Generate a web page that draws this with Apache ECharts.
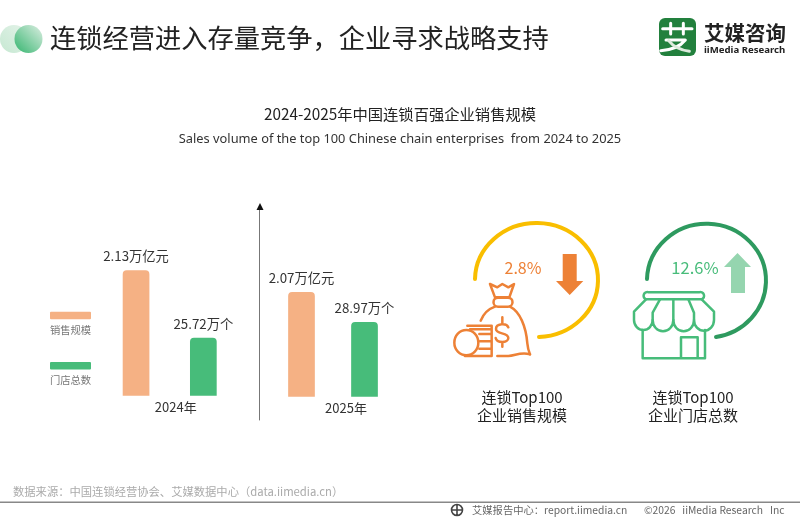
<!DOCTYPE html>
<html><head><meta charset="utf-8">
<style>html,body{margin:0;padding:0;background:#fff}#c{width:800px;height:520px}</style>
<script src="https://cdn.jsdelivr.net/npm/echarts@6/dist/echarts.min.js"></script>
</head><body><div id="c"></div>
<script>
const years = ['2024年', '2025年'];
const salesValues = [2.13, 2.07];
const storeValues = [25.72, 28.97];
const seriesNames = ['销售规模', '门店总数'];
const salesUnit = '万亿元';
const storeUnit = '万个';
const changes = ['2.8%', '12.6%'];
const kpiLabels = [['连锁Top100', '企业销售规模'], ['连锁Top100', '企业门店总数']];

const CJK = '"Noto Sans CJK SC","Noto Sans",sans-serif';
const ORANGE = '#F5B184', GREEN = '#47BC7A', ICON_OR = '#ED8136';

function barSeries(name, yIdx, xIdx, val, unit, color, gap) {
  return {
    type: 'bar', name, xAxisIndex: xIdx, yAxisIndex: yIdx, data: [val],
    barWidth: 26.7, barGap: gap,
    itemStyle: { color, borderRadius: [4, 4, 0, 0] },
    label: { show: true, position: 'top', distance: 7.5, fontFamily: CJK, fontSize: 13.3, color: '#333',
      formatter: p => p.value + unit }
  };
}
function cat(i, padLeft) {
  return { type: 'category', gridIndex: i, data: [years[i]],
    axisLine: { show: false }, axisTick: { show: false }, splitLine: { show: false },
    axisLabel: { fontFamily: CJK, fontSize: 13, color: '#333', margin: 5, padding: [0, 0, 0, padLeft] } };
}
function val(i, min, max) {
  return { type: 'value', gridIndex: i, min, max, show: false, splitLine: { show: false } };
}
function text(t, x, y, size, color, align, extra) {
  return { type: 'text', x, y, silent: true,
    style: Object.assign({ text: t, fill: color, font: `${size}px ${CJK}`, align: align || 'left', verticalAlign: 'middle' }, extra || {}) };
}
let shapeId = 0;
function pathType(d) {
  const name = 'sk' + (shapeId++);
  echarts.graphic.registerShape(name, echarts.graphic.extendPath(d, {}));
  return name;
}
function stroke(d, color, w) {
  return { type: pathType(d), silent: true, 
    style: { fill: 'none', stroke: color, lineWidth: w, lineCap: 'round', lineJoin: 'round' } };
}
function fillPath(d, color) {
  return { type: pathType(d), silent: true, style: { fill: color } };
}
const lg = (c0, c1, x, y, x2, y2) => ({ type: 'linear', x, y, x2, y2, colorStops: [{ offset: 0, color: c0 }, { offset: 1, color: c1 }] });

const graphics = [
  // header dots
  { type: 'circle', shape: { cx: 14, cy: 39, r: 14 }, style: { fill: lg('#E4F3E9', '#C6E8D2', 1, 0, 0, 1) } },
  { type: 'circle', shape: { cx: 28.5, cy: 39, r: 14 }, style: { fill: lg('#DCEEE2', '#35B56F', 1, 0, 0, 1) } },
  // logo
  { type: 'rect', shape: { x: 659, y: 18, width: 37, height: 38, r: 6 }, style: { fill: '#22803D' } },
  { type: 'group', x: 640, y: 0, scaleX: 1 / 3, scaleY: 1 / 3, children: [
    stroke('M68,86 L156,86 M92,70 L92,102 M130,70 L130,102', '#fff', 9),
    stroke('M78,120 L136,120 C120,140 95,150 62,152', '#fff', 9),
    stroke('M86,122 C100,140 118,150 148,154', '#DDEBDD', 9)
  ] },
  text('艾媒咨询', 704, 33, 20.5, '#222', 'left', { font: `bold 20.5px ${CJK}` }),
  text('iiMedia Research', 704, 50, 9.6, '#222', 'left', { font: `bold 9.6px "Noto Sans",sans-serif` }),
  // legend
  { type: 'rect', shape: { x: 50, y: 311.7, width: 41, height: 7.6, r: 1 }, style: { fill: ORANGE } },
  text(seriesNames[0], 70.5, 330, 10.3, '#777', 'center'),
  { type: 'rect', shape: { x: 50, y: 362, width: 41, height: 7.6, r: 1 }, style: { fill: GREEN } },
  text(seriesNames[1], 70.5, 380, 10.3, '#777', 'center'),
  // divider arrow
  stroke('M259.5,420 L259.5,207', '#777', 1),
  fillPath('M260,203 L263.5,210 L256.5,210 Z', '#111'),
  // left KPI
  stroke('M475,279 A61.5,57 0 1 1 539,337', '#F9BE00', 4),
  text(changes[0], 523, 268, 16, ICON_OR, 'center'),
  fillPath('M562.7,254 L576.7,254 L576.7,281 L583.3,281 L569.7,295 L556,281 L562.7,281 Z', ICON_OR),
  { type: 'group', x: 440, y: 210, scaleX: 1 / 3, scaleY: 1 / 3, children: [
    stroke('M150,222 L172,232 L187,222 L205,232 L222,222 L208,262 L165,262 Z', ICON_OR, 7.5),
    stroke('M174,263 L204,263 A13,13 0 0 1 204,290 L174,290 A13,13 0 0 1 174,263 Z', ICON_OR, 7.5),
    stroke('M122,332 C130,312 145,297 165,290 M210,290 C240,305 258,350 262,400 C264,420 268,428 270,433', ICON_OR, 7.5),
    stroke('M172,438 L205,438 C225,438 240,425 270,433', ICON_OR, 7.5),
    stroke('M205,352 C200,338 168,340 168,357 C168,375 205,365 205,384 C205,400 170,400 167,384 M187,322 L187,340 M187,396 L187,410', ICON_OR, 7.5),
    stroke('M115,398 A36,38 0 1 1 43,398 A36,38 0 1 1 115,398 Z', ICON_OR, 7.5),
    stroke('M82,347 L155,347 L155,438 L75,438 M90,358 L155,358 M118,372 L155,372 M120,394 L155,394 M118,416 L155,416', ICON_OR, 7.5)
  ] },
  // right KPI
  stroke('M647,279 A59.5,57 0 1 1 716,337', '#2E9A5F', 4),
  text(changes[1], 695, 268, 16.5, GREEN, 'center'),
  fillPath('M737.5,253 L751,267 L745,267 L745,293 L731,293 L731,267 L724,267 Z', '#95D5AF'),
  { type: 'group', x: 620, y: 210, scaleX: 1 / 3, scaleY: 1 / 3, children: [
    stroke('M86,247 L237,247 A10,10 0 0 1 245,268 L78,268 A10,10 0 0 1 86,247 Z', GREEN, 7.5),
    stroke('M78,268 L42,305 L42,330 A28,30 0 0 0 98,330 A31,34 0 0 0 160,330 A31,34 0 0 0 222,330 A30,32 0 0 0 282,330 L282,305 L245,268', GREEN, 7.5),
    stroke('M120,268 L98,308 L98,330 M160,268 L160,330 M205,268 L222,308 L222,330', GREEN, 7.5),
    stroke('M68,360 L68,445 L255,445 L255,360 M183,445 L183,382 L233,382 L233,445', GREEN, 7.5)
  ] },
  text(kpiLabels[0][0], 522, 397, 15, '#222', 'center'),
  text(kpiLabels[0][1], 522, 415, 15, '#222', 'center'),
  text(kpiLabels[1][0], 693, 397, 15, '#222', 'center'),
  text(kpiLabels[1][1], 693, 415, 15, '#222', 'center'),
  // footer
  text('数据来源：中国连锁经营协会、艾媒数据中心（data.iimedia.cn）', 13, 492, 11.3, '#AAA'),
  { type: 'rect', shape: { x: 0, y: 501.5, width: 800, height: 1.5 }, style: { fill: '#888' } },
  stroke('M462.5,510 A5.5,5.5 0 1 1 451.5,510 A5.5,5.5 0 1 1 462.5,510 Z M451.5,510 L462.5,510 M457,504.5 L457,515.5', '#444', 1.6),
  text('艾媒报告中心：report.iimedia.cn', 472, 510, 10.3, '#666'),
  text('©2026   iiMedia Research   Inc', 644, 510, 10.3, '#666')
];

const option = {
  animation: false,
  backgroundColor: '#fff',
  title: [
    { text: '连锁经营进入存量竞争，企业寻求战略支持', left: 50, top: 21,
      textStyle: { fontFamily: CJK, fontSize: 26.25, fontWeight: 'normal', color: '#222', lineHeight: 34 }, padding: 0 },
    { text: '2024-2025年中国连锁百强企业销售规模', left: 400, top: 105, textAlign: 'center', padding: 0,
      textStyle: { fontFamily: CJK, fontSize: 15.3, fontWeight: 'normal', color: '#222', lineHeight: 18 } },
    { text: 'Sales volume of the top 100 Chinese chain enterprises  from 2024 to 2025', left: 400, top: 130, textAlign: 'center', padding: 0,
      textStyle: { fontFamily: '"Noto Sans",sans-serif', fontSize: 12.83, fontWeight: 'normal', color: '#333', lineHeight: 18 } }
  ],
  grid: [
    { left: 99.7, width: 140, top: 195.7, height: 200 },
    { left: 270, width: 126, top: 196.7, height: 200 }
  ],
  xAxis: [cat(0, 12), cat(1, 26)],
  yAxis: [val(0, 1.767, 2.346), val(0, 14.43, 53.36), val(1, 1.767, 2.346), val(1, 14.43, 53.36)],
  series: [
    barSeries(seriesNames[0], 0, 0, salesValues[0], salesUnit, ORANGE, '152%'),
    barSeries(seriesNames[1], 1, 0, storeValues[0], storeUnit, GREEN, '152%'),
    barSeries(seriesNames[0], 2, 1, salesValues[1], salesUnit, ORANGE, '136%'),
    barSeries(seriesNames[1], 3, 1, storeValues[1], storeUnit, GREEN, '136%')
  ],
  graphic: { elements: graphics }
};
echarts.init(document.getElementById('c')).setOption(option);
</script></body></html>
